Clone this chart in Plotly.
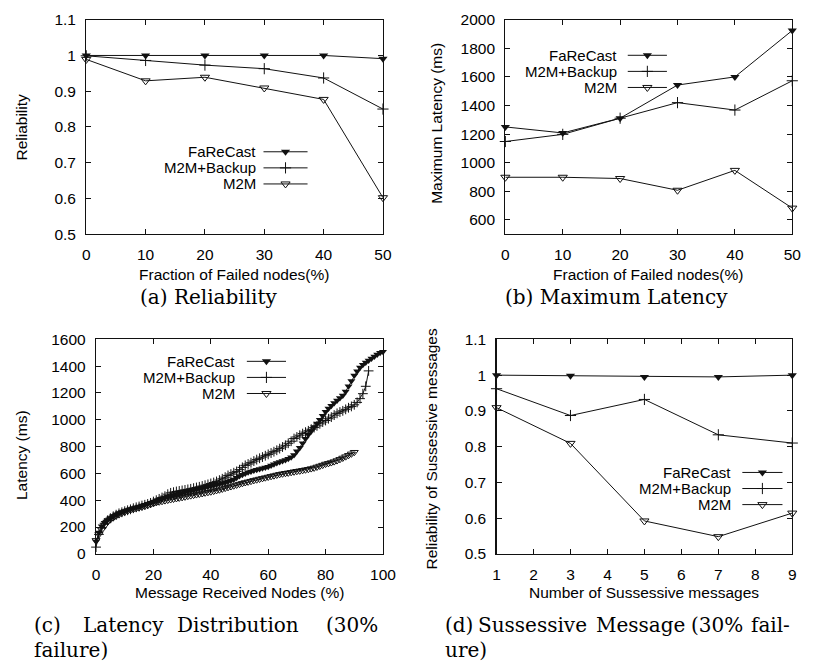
import plotly.graph_objects as go

# ---------------- data ----------------
series_names = ["FaReCast", "M2M+Backup", "M2M"]

# (a) Reliability vs fraction of failed nodes
fail_pct = [0, 10, 20, 30, 40, 50]
rel_farecast = [1.0, 1.0, 1.0, 1.0, 1.0, 0.991]
rel_backup = [0.999, 0.986, 0.973, 0.963, 0.937, 0.850]
rel_m2m = [0.989, 0.929, 0.939, 0.909, 0.877, 0.602]

# (b) Maximum latency vs fraction of failed nodes
lat_farecast = [1250, 1208, 1311, 1543, 1600, 1925]
lat_backup = [1148, 1198, 1311, 1420, 1368, 1573]
lat_m2m = [898, 898, 889, 807, 946, 682]

# (c) Latency distribution (30% failure)
dist_x_farecast = list(range(0, 101))
dist_farecast = [92, 160, 205, 232, 252, 268, 282, 294, 304, 312,
                 320, 327, 334, 341, 348, 354, 360, 366, 373, 381,
                 389, 397, 405, 412, 420, 426, 432, 438, 443, 448,
                 454, 459, 465, 470, 475, 480, 485, 490, 495, 500,
                 505, 510, 515, 521, 527, 533, 540, 547, 555, 567,
                 580, 590, 600, 608, 615, 622, 628, 633, 638, 644,
                 650, 659, 668, 677, 686, 693, 700, 710, 720, 738,
                 765, 792, 825, 858, 888, 915, 945, 972, 1000, 1030,
                 1060, 1085, 1105, 1125, 1145, 1162, 1182, 1212, 1250, 1290,
                 1330, 1362, 1390, 1410, 1427, 1442, 1457, 1472, 1487, 1500,
                 1508]
dist_x_backup = list(range(0, 96))
dist_backup = [50, 145, 195, 228, 250, 266, 280, 292, 302, 310,
               318, 325, 332, 340, 347, 353, 360, 366, 372, 380,
               390, 400, 410, 420, 430, 445, 455, 460, 465, 469,
               473, 477, 481, 485, 490, 495, 500, 506, 512, 518,
               525, 532, 540, 550, 560, 572, 585, 595, 605, 615,
               628, 645, 660, 670, 680, 692, 703, 713, 722, 732,
               742, 752, 762, 773, 785, 797, 810, 825, 840, 860,
               872, 885, 897, 908, 918, 930, 942, 955, 970, 983,
               995, 1008, 1020, 1035, 1048, 1058, 1067, 1078, 1090, 1100,
               1112, 1130, 1158, 1195, 1250, 1365]
dist_x_m2m = list(range(0, 91))
dist_m2m = [100, 145, 180, 210, 238, 255, 270, 283, 294, 304,
            313, 320, 327, 333, 339, 345, 350, 356, 362, 369,
            376, 383, 388, 392, 397, 401, 405, 409, 413, 417,
            421, 425, 430, 434, 438, 442, 446, 450, 455, 459,
            463, 468, 473, 478, 484, 490, 496, 502, 508, 514,
            520, 526, 532, 537, 542, 548, 553, 558, 563, 568,
            573, 578, 583, 588, 593, 597, 601, 604, 608, 612,
            616, 619, 623, 627, 631, 636, 641, 648, 655, 662,
            670, 675, 681, 688, 696, 705, 715, 725, 735, 746,
            758]

# (d) Reliability of successive messages
num_msgs = [1, 3, 5, 7, 9]
succ_farecast = [1.0, 0.998, 0.995, 0.995, 1.0]
succ_backup = [0.962, 0.887, 0.932, 0.833, 0.810]
succ_m2m = [0.909, 0.809, 0.592, 0.548, 0.614]

# tick values / labels
rel_ticks = [0.5, 0.6, 0.7, 0.8, 0.9, 1.0, 1.1]
rel_tick_text = ["0.5", "0.6", "0.7", "0.8", "0.9", "1", "1.1"]
fail_ticks = [0, 10, 20, 30, 40, 50]
lat_ticks = [600, 800, 1000, 1200, 1400, 1600, 1800, 2000]
dist_x_ticks = [0, 20, 40, 60, 80, 100]
dist_y_ticks = [0, 200, 400, 600, 800, 1000, 1200, 1400, 1600]
msg_ticks = [1, 2, 3, 4, 5, 6, 7, 8, 9]

# ---------------- layout helpers ----------------
# design grid in reference pixels; the figure itself fills the browser window
W, H = 818, 670
SANS = "Liberation Sans, Arial, Helvetica, sans-serif"
SERIF = "DejaVu Serif, serif"
FS = 15.5
INK = "#111111"


def fx(p):
    return p / W


def fy(p):
    return 1 - p / H


def marker_style(name, size):
    if name == "FaReCast":
        return dict(symbol="triangle-down", size=size, color=INK)
    if name == "M2M+Backup":
        return dict(symbol="cross-thin", size=size, color=INK,
                    line=dict(width=1, color=INK))
    return dict(symbol="triangle-down-open", size=size, color=INK,
                line=dict(width=1, color=INK))


fig = go.Figure()

panels = [
    ("x", "y", [(fail_pct, rel_farecast), (fail_pct, rel_backup), (fail_pct, rel_m2m)], 8),
    ("x2", "y2", [(fail_pct, lat_farecast), (fail_pct, lat_backup), (fail_pct, lat_m2m)], 8),
    ("x3", "y3", [(dist_x_farecast, dist_farecast), (dist_x_backup, dist_backup),
                  (dist_x_m2m, dist_m2m)], 7),
    ("x4", "y4", [(num_msgs, succ_farecast), (num_msgs, succ_backup), (num_msgs, succ_m2m)], 8),
]

for xa, ya, data, msize in panels:
    for name, (xs, ys) in zip(series_names, data):
        fig.add_trace(go.Scatter(
            x=xs, y=ys, mode="lines+markers", name=name, showlegend=False,
            line=dict(color=INK, width=1),
            marker=marker_style(name, msize),
            xaxis=xa, yaxis=ya, cliponaxis=False))


def axis_style(domain, rng, tickvals, ticktext=None, anchor=None):
    d = dict(domain=domain, range=rng, tickvals=tickvals,
             showline=True, linecolor=INK, linewidth=1.2, mirror="ticks",
             ticks="inside", ticklen=5, tickwidth=1, tickcolor=INK,
             showgrid=False, zeroline=False, fixedrange=True,
             tickfont=dict(family=SANS, size=FS, color="black"),
             ticklabelstandoff=6, anchor=anchor)
    if ticktext is not None:
        d["ticktext"] = ticktext
    return d


# pixel frames (left, right, top, bottom)
frames = {
    "a": (84, 387, 11, 231),
    "b": (512, 805, 11, 231),
    "c": (94, 387, 339, 559),
    "d": (503, 805, 339, 559),
}


def dom(fr):
    l, r, t, b = fr
    return [fx(l), fx(r)], [fy(b), fy(t)]


xa_d, ya_d = dom(frames["a"])
xb_d, yb_d = dom(frames["b"])
xc_d, yc_d = dom(frames["c"])
xd_d, yd_d = dom(frames["d"])

fig.update_layout(
    xaxis=axis_style(xa_d, [0, 50], fail_ticks, anchor="y"),
    yaxis=axis_style(ya_d, [0.5, 1.1], rel_ticks, rel_tick_text, anchor="x"),
    xaxis2=axis_style(xb_d, [0, 50], fail_ticks, anchor="y2"),
    yaxis2=axis_style(yb_d, [500, 2000], lat_ticks, anchor="x2"),
    xaxis3=axis_style(xc_d, [0, 100], dist_x_ticks, anchor="y3"),
    yaxis3=axis_style(yc_d, [0, 1600], dist_y_ticks, anchor="x3"),
    xaxis4=axis_style(xd_d, [1, 9], msg_ticks, anchor="y4"),
    yaxis4=axis_style(yd_d, [0.5, 1.1], rel_ticks, rel_tick_text, anchor="x4"),
    # overlay grid axis for legend keys
    xaxis5=dict(domain=[0, 1], range=[0, W], visible=False, fixedrange=True, anchor="y5"),
    yaxis5=dict(domain=[0, 1], range=[H, 0], visible=False, fixedrange=True, anchor="x5"),
)

# ---------------- legends (gnuplot style: text then key) ----------------
legend_boxes = {
    "a": (258, 265, 310, [146.5, 163, 179.5]),
    "b": (627, 637, 677, [47.5, 64, 80.5]),
    "c": (237, 248, 288, [361.5, 378, 394.5]),
    "d": (743, 754, 795, [475.5, 492, 508.5]),
}
LEG_FS = 15

annotations = []
for key, (tx, lx0, lx1, rows) in legend_boxes.items():
    for name, ry in zip(series_names, rows):
        annotations.append(dict(
            x=fx(tx), y=fy(ry), xref="paper", yref="paper", text=name,
            showarrow=False, xanchor="right", yanchor="middle", borderpad=0,
            font=dict(family=SANS, size=LEG_FS, color="black")))
        fig.add_trace(go.Scatter(
            x=[lx0, lx1], y=[ry, ry], mode="lines", showlegend=False,
            line=dict(color=INK, width=1), xaxis="x5", yaxis="y5",
            hoverinfo="skip", cliponaxis=False))
        fig.add_trace(go.Scatter(
            x=[(lx0 + lx1) / 2], y=[ry], mode="markers", showlegend=False,
            marker=marker_style(name, 8), xaxis="x5", yaxis="y5",
            hoverinfo="skip", cliponaxis=False))

# ---------------- axis titles ----------------
ytitles = [
    ("Reliability", 18, 121),
    ("Maximum Latency (ms)", 441, 117),
    ("Latency (ms)", 18, 458),
    ("Reliability of Sussessive messages", 437, 451),
]
for txt, cx, cy in ytitles:
    annotations.append(dict(
        x=fx(cx), y=fy(cy), xref="paper", yref="paper", text=txt,
        showarrow=False, textangle=-90, xanchor="center", yanchor="middle",
        font=dict(family=SANS, size=FS, color="black")))

xtitles = [
    ("Fraction of Failed nodes(%)", 235, 272),
    ("Fraction of Failed nodes(%)", 658, 272),
    ("Message Received Nodes (%)", 240, 599),
    ("Number of Sussessive messages", 654, 599),
]
for txt, cx, cy in xtitles:
    annotations.append(dict(
        x=fx(cx), y=fy(cy), xref="paper", yref="paper", text=txt,
        showarrow=False, xanchor="center", yanchor="middle",
        font=dict(family=SANS, size=FS, color="black")))

# ---------------- captions ----------------
CAP = 20
captions = [
    ("(a) Reliability", 209, 296, "center"),
    ("(b) Maximum Latency", 626, 296, "center"),
    ("(c)", 29, 632, "left"),
    ("Latency", 122, 632, "center"),
    ("Distribution", 239, 632, "center"),
    ("(30%", 384, 632, "right"),
    ("failure)", 29, 658, "left"),
    ("(d)", 448, 632, "left"),
    ("Sussessive", 540, 632, "center"),
    ("Message", 650, 632, "center"),
    ("(30%", 728, 632, "center"),
    ("fail-", 805, 632, "right"),
    ("ure)", 448, 658, "left"),
]
for txt, cx, cy, xa in captions:
    annotations.append(dict(
        x=fx(cx), y=fy(cy), xref="paper", yref="paper", text=txt,
        showarrow=False, xanchor=xa, yanchor="middle",
        font=dict(family=SERIF, size=CAP, color="black")))

fig.update_layout(
    autosize=True,
    margin=dict(l=0, r=0, t=0, b=0, pad=0),
    paper_bgcolor="white",
    plot_bgcolor="rgba(0,0,0,0)",
    showlegend=False,
    hovermode=False,
    annotations=annotations,
    font=dict(family=SANS, size=FS, color="black"),
)

fig.write_html(
    "out.html",
    default_width="100vw",
    default_height="100vh",
    config={"displayModeBar": False, "staticPlot": True, "responsive": True},
    post_script="document.body.style.margin='0';document.body.style.overflow='hidden';",
)
